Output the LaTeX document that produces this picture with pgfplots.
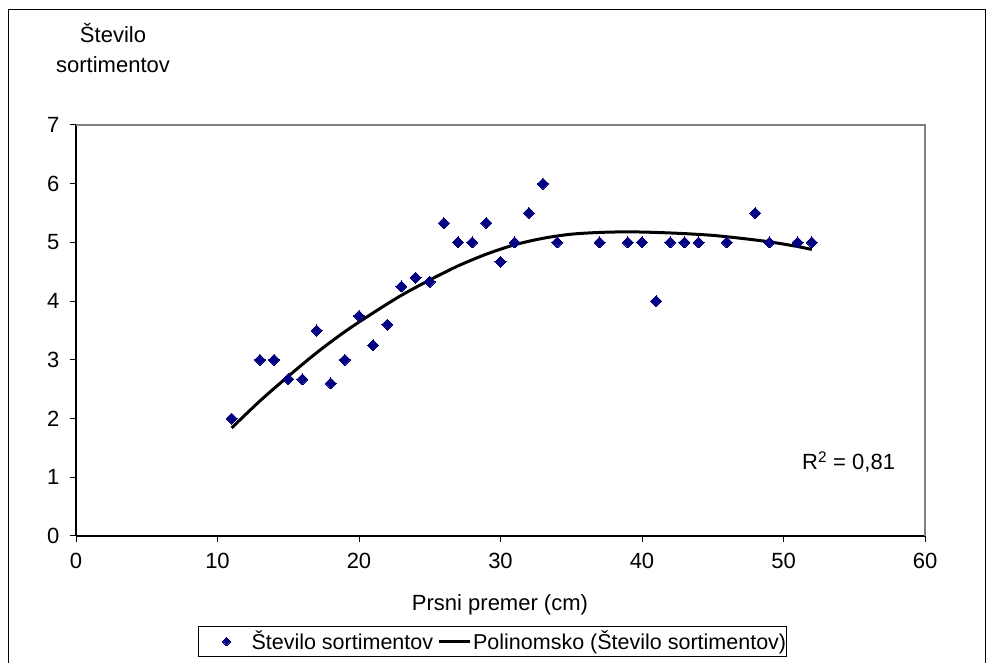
\documentclass[border=0pt]{standalone}
\usepackage{pgfplots}
\pgfplotsset{compat=1.18}
\usepackage{fontspec}
\setmainfont{Liberation Sans}
\definecolor{navymark}{RGB}{0,0,128}
\definecolor{framegray}{RGB}{128,128,128}
\begin{document}
\fontsize{22}{30}\selectfont
\begin{tikzpicture}[x=1pt,y=1pt]
\path[use as bounding box] (0,0) rectangle (986,663);
\draw[black,line width=1pt] (8.5,-5) rectangle (985.5,653);
\begin{axis}[
  at={(76pt,127pt)}, anchor=south west,
  scale only axis, width=849pt, height=411pt,
  xmin=0, xmax=60, ymin=0, ymax=7,
  xtick={0,10,...,60}, ytick={0,1,...,7},
  axis x line*=bottom, axis y line*=left,
  axis line style={black,line width=1.3pt,-},
  tick align=outside, major tick length=6pt,
  tick style={black,line width=1pt},
  minor tick num=0,
  /pgf/number format/assume math mode=true,
  ticklabel style={font=\fontsize{22}{26}\selectfont},
  yticklabel style={xshift=-3pt},
  xticklabel style={yshift=-4pt},
  xlabel={Prsni premer (cm)},
  xlabel style={at={(axis description cs:0.4994,-0.168)},anchor=center,font=\fontsize{22}{26}\selectfont},
  ylabel={Število\\sortimentov},
  ylabel style={rotate=-90,at={(axis description cs:0.0436,1.187)},anchor=center,align=center,font=\fontsize{22}{30}\selectfont},
  legend style={at={(axis description cs:0.1437,-0.219)},anchor=north west,
    draw=black, line width=1pt, fill=white, font=\fontsize{21.5}{26}\selectfont,
    inner xsep=0pt, inner ysep=4pt, nodes={inner sep=0pt}, column sep=0pt, row sep=0pt},
  legend columns=2,
  clip=false,
]
\draw[framegray,line width=1.3pt] (rel axis cs:0,1) -- (rel axis cs:1,1) -- (rel axis cs:1,0);
\addplot[only marks, mark=square*, mark size=3.9pt, mark options={rotate=45,fill=navymark,draw=navymark,line width=0pt},
  legend image code/.code={\path[draw=none,fill=none] (0pt,0pt) -- (53pt,0pt); \path[draw=none,fill=none] plot[mark=square*, mark size=2.9pt, mark options={rotate=45,fill=navymark,draw=navymark,line width=0pt}] coordinates {(28pt,0pt)};}]
coordinates {
(11,2.0) (13,3.0) (14,3.0) (15,2.67) (16,2.67) (17,3.5) (18,2.6) (19,3.0)
(20,3.75) (21,3.25) (22,3.6) (23,4.25) (24,4.4) (25,4.33) (26,5.33) (27,5.0)
(28,5.0) (29,5.33) (30,4.67) (31,5.0) (32,5.5) (33,6.0) (34,5.0) (37,5.0)
(39,5.0) (40,5.0) (41,4.0) (42,5.0) (43,5.0) (44,5.0) (46,5.0) (48,5.5)
(49,5.0) (51,5.0) (52,5.0)
};
\addlegendentry{Število sortimentov}
\addplot[black, line width=3pt, smooth, no markers,
  legend image code/.code={\path[draw=none,fill=none] (0pt,0pt) -- (40pt,0pt); \draw[black,line width=2.6pt] (6pt,0pt) -- (37pt,0pt);}]
coordinates {
(11,1.84) (13,2.3) (15,2.72) (17,3.12) (19,3.48) (21,3.8) (23,4.1) (25,4.36)
(27,4.6) (29,4.8) (31,4.96) (33,5.07) (35,5.14) (37,5.17) (39,5.18) (41,5.17)
(43,5.15) (45,5.12) (47,5.07) (49,5.01) (51,4.93) (52,4.88)
};
\addlegendentry{Polinomsko (Število sortimentov)\hspace{8pt}}
\node[anchor=center,font=\fontsize{22}{26}\selectfont] at (axis description cs:0.910,0.180) {R$^{\mathrm{2}}$ = 0,81};
\end{axis}
\end{tikzpicture}
\end{document}
